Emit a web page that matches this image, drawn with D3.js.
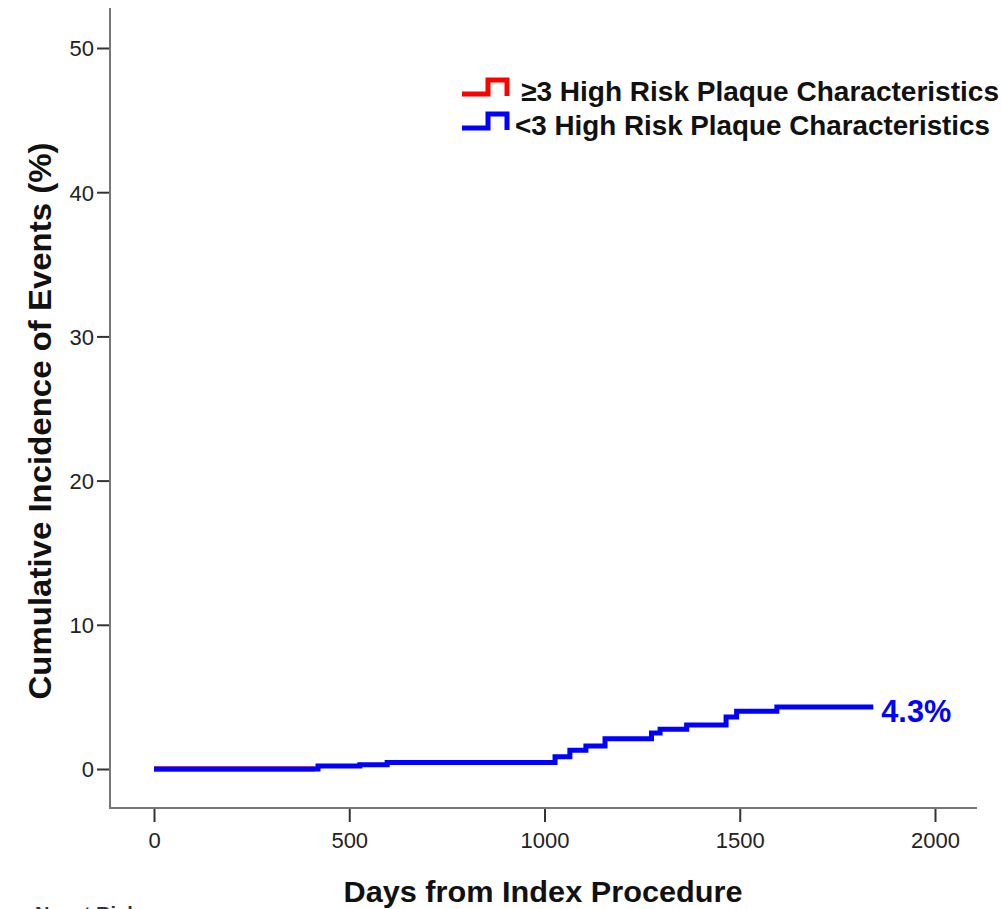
<!DOCTYPE html>
<html>
<head>
<meta charset="utf-8">
<script src="https://cdn.jsdelivr.net/npm/d3@7"></script>
<style>
  body { margin: 0; background: #fff; }
  svg { display: block; font-family: "Liberation Sans", Arial, sans-serif; }
</style>
</head>
<body>
<div id="chart"></div>
<script>
// days / cumulative incidence (%)
const highRiskDays = [0, 412];
const highRiskPct  = [0, 0];
const lowRiskDays = [0, 420, 527, 597, 1027, 1065, 1106, 1155, 1274, 1296, 1364, 1465, 1492, 1595, 1842];
const lowRiskPct  = [0, 0.2, 0.3, 0.45, 0.85, 1.3, 1.6, 2.1, 2.5, 2.75, 3.05, 3.6, 4.0, 4.3, 4.3];
const xTicks = [0, 500, 1000, 1500, 2000];
const yTicks = [0, 10, 20, 30, 40, 50];
const seriesNames = ["\u22653 High Risk Plaque Characteristics", "<3 High Risk Plaque Characteristics"];
const seriesColors = ["#ff0000", "#0000ff"];
const endLabel = "4.3%";

const W = 1002, H = 909;

const svg = d3.select("#chart").append("svg")
    .attr("width", W)
    .attr("height", H);

//x and y scales
const x = d3.scaleLinear().domain([0, 2000]).range([154, 935]);
const y = d3.scaleLinear().domain([0, 50]).range([769, 48]);

const axisLeftX = 110, axisBottomY = 808;

// axis lines (they run past the tick range like the SPSS frame)
svg.append("line")
    .attr("x1", axisLeftX).attr("x2", axisLeftX)
    .attr("y1", 8).attr("y2", axisBottomY + 1)
    .attr("stroke", "#777").attr("stroke-width", 2);
svg.append("line")
    .attr("x1", axisLeftX - 1).attr("x2", 977)
    .attr("y1", axisBottomY).attr("y2", axisBottomY)
    .attr("stroke", "#777").attr("stroke-width", 2);

const xAxis = svg.append("g")
    .attr("transform", "translate(0," + (axisBottomY + 1) + ")")
    .call(d3.axisBottom(x).tickValues(xTicks).tickSize(13).tickPadding(10).tickFormat(d3.format("d")));
const yAxis = svg.append("g")
    .attr("transform", "translate(" + (axisLeftX - 1) + ",0)")
    .call(d3.axisLeft(y).tickValues(yTicks).tickSize(12).tickPadding(3).tickFormat(d3.format("d")));

[xAxis, yAxis].forEach(a => {
    a.select(".domain").remove();
    a.selectAll(".tick line").attr("stroke", "#333").attr("stroke-width", 2);
    a.selectAll(".tick text")
        .attr("fill", "#222")
        .style("font-size", "22px")
        .style("font-family", "'Liberation Sans', Arial, sans-serif");
});
yAxis.selectAll(".tick text").attr("dy", "0.36em");

// axis titles
svg.append("text")
    .attr("x", 543).attr("y", 902)
    .attr("text-anchor", "middle")
    .attr("textLength", 399).attr("lengthAdjust", "spacingAndGlyphs")
    .style("font-size", "30px").style("font-weight", "bold")
    .attr("fill", "#111")
    .text("Days from Index Procedure");

svg.append("text")
    .attr("transform", "translate(51,421) rotate(-90)")
    .attr("text-anchor", "middle")
    .attr("textLength", 557).attr("lengthAdjust", "spacingAndGlyphs")
    .style("font-size", "32px").style("font-weight", "bold")
    .attr("fill", "#111")
    .text("Cumulative Incidence of Events (%)");

// cut off text at the bottom edge
svg.append("text")
    .attr("x", 35).attr("y", 921)
    .style("font-size", "20px").style("font-weight", "bold")
    .attr("fill", "#333")
    .text("No. at Risk");

// curves
const line = d3.line()
    .curve(d3.curveStepAfter)
    .x(d => x(d[0]))
    .y(d => y(d[1]));

const series = [
    d3.zip(highRiskDays, highRiskPct),
    d3.zip(lowRiskDays, lowRiskPct)
];

series.forEach((s, i) => {
    svg.append("path")
        .datum(s)
        .attr("fill", "none")
        .attr("stroke", seriesColors[i])
        .attr("stroke-width", 5)
        .attr("d", line);
});

// end label
const last = series[1][series[1].length - 1];
svg.append("text")
    .attr("x", x(last[0]) + 8)
    .attr("y", y(last[1]) + 15)
    .attr("fill", "#0000ff")
    .attr("textLength", 70).attr("lengthAdjust", "spacingAndGlyphs")
    .style("font-size", "31px").style("font-weight", "bold")
    .text(endLabel);

// legend
const legendX = 462, legendY = 94, legendGap = 34;
const glyph = [[0, 0], [26, 0], [26, -14], [45, -14], [45, 2]];
const legendText = [478, 475];
const legendTextX = [521, 515];

seriesNames.forEach((name, i) => {
    const g = svg.append("g")
        .attr("transform", "translate(" + legendX + "," + (legendY + i * legendGap) + ")");
    g.append("path")
        .attr("d", d3.line()(glyph))
        .attr("fill", "none")
        .attr("stroke", seriesColors[i])
        .attr("stroke-width", 5);
    g.append("text")
        .attr("x", legendTextX[i] - legendX)
        .attr("y", 7)
        .attr("textLength", legendText[i]).attr("lengthAdjust", "spacingAndGlyphs")
        .style("font-size", "28px").style("font-weight", "bold")
        .attr("fill", "#111")
        .text(name);
});
</script>
</body>
</html>
